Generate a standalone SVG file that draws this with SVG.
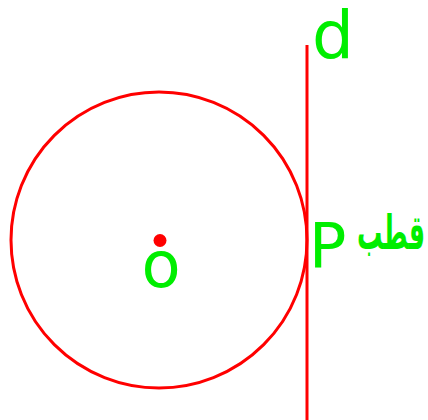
<svg xmlns="http://www.w3.org/2000/svg" width="428" height="420" viewBox="0 0 428 420">
<style>
.shape{fill:none;stroke:#ff0000;stroke-width:3}
.lbl{fill:#00ee00;font-family:"DejaVu Sans",sans-serif}
.ar{fill:#00ee00;font-family:"DejaVu Sans",sans-serif;font-weight:bold}
</style>
<rect width="428" height="420" fill="#ffffff"/>
<g id="circle"><circle class="shape" cx="159" cy="240" r="148"/></g>
<g id="center"><circle cx="160" cy="240.5" r="6.5" fill="#ff0000"/><text class="lbl" x="161" y="287" font-size="64" text-anchor="middle">o</text></g>
<g id="connectors"><line class="shape" x1="307" y1="45" x2="307" y2="420" stroke-width="3.5"/></g>
<g id="line-d"><text class="lbl" x="312" y="58" font-size="66">d</text></g>
<g id="point-P"><text class="lbl" x="309" y="267" font-size="62">P</text><text class="ar" x="391" y="249" font-size="48" text-anchor="middle" textLength="68" lengthAdjust="spacingAndGlyphs">قطب</text></g>
</svg>
